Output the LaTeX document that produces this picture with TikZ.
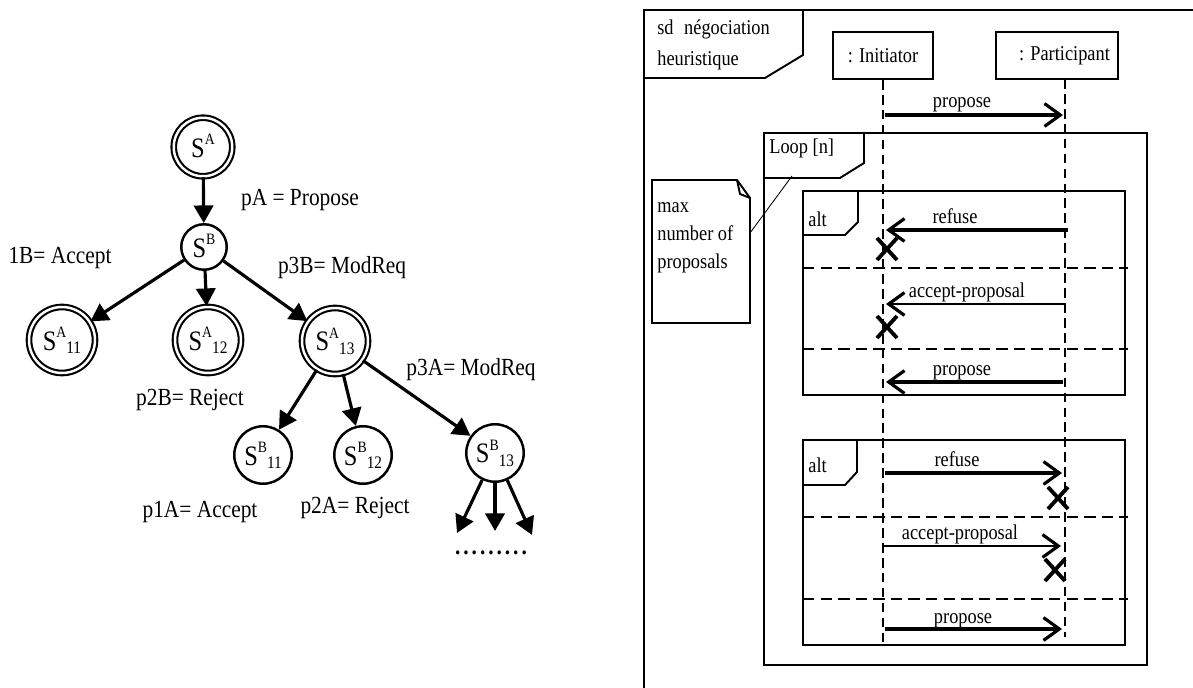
\documentclass[tikz,border=0pt]{standalone}
\usepackage{fontspec}
\setmainfont{Liberation Serif}[FakeStretch=0.87]
\usetikzlibrary{arrows.meta}

% state name: S with raised and lowered index
\newcommand{\stname}[2]{S\raisebox{1ex}{\fontsize{9}{9}\selectfont #1}\raisebox{-0.25ex}{\fontsize{10}{10}\selectfont #2}}

\begin{document}
\begin{tikzpicture}[x=0.02cm, y=-0.02cm]
    % --- Styles ---
    \tikzset{
        astate/.style={circle, draw, double, line width=1.2pt, double distance=1.4pt,
            minimum size=1.32cm, inner sep=0pt, font=\fontsize{16}{18}\selectfont},
        bstate/.style={circle, draw, line width=1.4pt,
            minimum size=1.15cm, inner sep=0pt, font=\fontsize{16}{18}\selectfont},
        move/.style={-{Triangle[length=10pt, width=11pt]}, line width=1.8pt},
        edge lbl/.style={font=\fontsize{14}{16}\selectfont},
        frame line/.style={line width=1.1pt},
        lifeline/.style={line width=1.1pt, dash pattern=on 5.5pt off 3pt},
        divider/.style={line width=1.1pt, dash pattern=on 6.5pt off 3.5pt},
        msg/.style={-{Straight Barb[length=9pt, width=13pt]}, line width=1.8pt},
        thin msg/.style={-{Straight Barb[length=9pt, width=13pt, line width=1.8pt]}, line width=1.1pt},
        seq txt/.style={font=\fontsize{12}{18}\selectfont, inner sep=0pt},
        xmark/.pic={\draw[line width=2.2pt] (-10,-11) -- (10,11) (-10,11) -- (10,-11);}
    }
    \useasboundingbox (0,0) rectangle (1193,688);

    % =========================================================
    % 1. NEGOTIATION TREE
    % =========================================================
    \node[astate, minimum size=1.17cm] (sA) at (203,147) {\stname{A}{}};
    \node[bstate, minimum size=0.91cm] (sB) at (204,247) {\stname{B}{}};

    \node[astate] (sA11) at (62,340)  {\stname{A}{11}};
    \node[astate] (sA12) at (208,340) {\stname{A}{12}};
    \node[astate] (sA13) at (335,341) {\stname{A}{13}};

    \node[bstate] (sB11) at (263,455) {\stname{B}{11}};
    \node[bstate] (sB12) at (363,455) {\stname{B}{12}};
    \node[bstate] (sB13) at (495,453) {\stname{B}{13}};

    % open ends below the last state
    \coordinate (next1) at (457,533);
    \coordinate (next2) at (495,531);
    \coordinate (next3) at (532,535);

    \draw[move] (sA) -- (sB);
    \draw[move] (sB) -- (sA11);
    \draw[move] (sB) -- (sA12);
    \draw[move] (sB) -- (sA13);
    \draw[move] (sA13) -- (sB11);
    \draw[move] (sA13) -- (sB12);
    \draw[move] (sA13) -- (sB13);
    \draw[move] (sB13) -- (next1);
    \draw[move] (sB13) -- (next2);
    \draw[move] (sB13) -- (next3);

    % edge labels
    \node[edge lbl] (lpA)  at (300,200) {pA = Propose};
    \node[edge lbl] (l1B)  at (60,258)  {1B= Accept};
    \node[edge lbl] (lp3B) at (342,268) {p3B= ModReq};
    \node[edge lbl] (lp2B) at (190,400) {p2B= Reject};
    \node[edge lbl] (lp3A) at (471,370) {p3A= ModReq};
    \node[edge lbl] (lp1A) at (200,512) {p1A= Accept};
    \node[edge lbl] (lp2A) at (355,508) {p2A= Reject};
    \node[edge lbl] (dots) at (491,553) {\bfseries\addfontfeatures{LetterSpace=12}.........};

    % =========================================================
    % 2. SEQUENCE DIAGRAM
    % =========================================================
    % Outer frame (runs off the page right and bottom)
    \draw[frame line] (1193,10) -- (644,10) -- (644,688);
    \draw[frame line] (644,78) -- (765,78) -- (803,55) -- (803,10);
    \node[seq txt, anchor=north west, align=left] (sdname) at (657,19)
        {sd\enspace négociation\\heuristique};

    % Lifeline heads
    \node[draw, frame line, minimum width=2cm, minimum height=0.94cm,
          seq txt] (ini) at (883,55.5) {: Initiator};
    \node[draw, frame line, minimum width=2.44cm, minimum height=0.94cm,
          seq txt] (par) at (1057,55.5) {\hspace{0.3cm}: Participant};
    \coordinate (iniTop) at (ini.south);
    \coordinate (parTop) at (1065,79);
    \coordinate (iniEnd) at (883,645);
    \coordinate (parEnd) at (1065,637);
    \draw[lifeline] (iniTop) -- (iniEnd);
    \draw[lifeline] (parTop) -- (parEnd);

    % Loop fragment
    \draw[frame line] (764,133) rectangle (1147,665);
    \draw[frame line] (764,178) -- (840,178) -- (864,163) -- (864,133);
    \node[seq txt, anchor=north west] (loopname) at (769,139) {Loop [n]};

    % Note
    \draw[frame line] (652,180) -- (737,180) -- (750,198) -- (750,323) -- (652,323) -- cycle;
    \draw[frame line] (737,180) -- (740,194) -- (750,198);
    \node[seq txt, anchor=north west, align=left, font=\fontsize{12}{16}\selectfont]
        (note) at (657,202) {max\\number of\\proposals};
    \draw[line width=0.5pt] (750,233) -- (792,176);

    % First alt fragment
    \draw[frame line] (803,191) rectangle (1125,395);
    \draw[frame line] (803,235) -- (845,235) -- (858,222) -- (858,191);
    \node[seq txt, anchor=north west] (alt1) at (808,212) {alt};
    \draw[divider] (803,268) -- (1128,268);
    \draw[divider] (803,349) -- (1128,349);

    % Second alt fragment
    \draw[frame line] (803,440) rectangle (1125,645);
    \draw[frame line] (803,485) -- (845,485) -- (857,472) -- (857,440);
    \node[seq txt, anchor=north west] (alt2) at (808,458) {alt};
    \draw[divider] (803,517) -- (1128,517);
    \draw[divider] (803,599) -- (1128,599);

    % Messages
    \draw[msg] (885,115) -- (1063,115);
    \node[seq txt, anchor=base] (m1) at (962,108) {propose};

    \draw[msg] (1068,230) -- (886,230);
    \node[seq txt, anchor=base] (m2) at (955,224) {refuse};
    \pic at (887,249) {xmark};

    \draw[thin msg] (1065,304) -- (886,304);
    \node[seq txt, anchor=base] (m3) at (967,298) {accept-proposal};
    \pic at (887,327) {xmark};

    \draw[msg] (1063,382) -- (886,382);
    \node[seq txt, anchor=base] (m4) at (962,376) {propose};

    \draw[msg] (885,473) -- (1062,473);
    \node[seq txt, anchor=base] (m5) at (957,467) {refuse};
    \pic at (1058,498) {xmark};

    \draw[thin msg] (883,546) -- (1061,546);
    \node[seq txt, anchor=base] (m6) at (960,540) {accept-proposal};
    \pic at (1055,570) {xmark};

    \draw[msg] (885,629) -- (1062,629);
    \node[seq txt, anchor=base] (m7) at (963,623) {propose};

\end{tikzpicture}
\end{document}
